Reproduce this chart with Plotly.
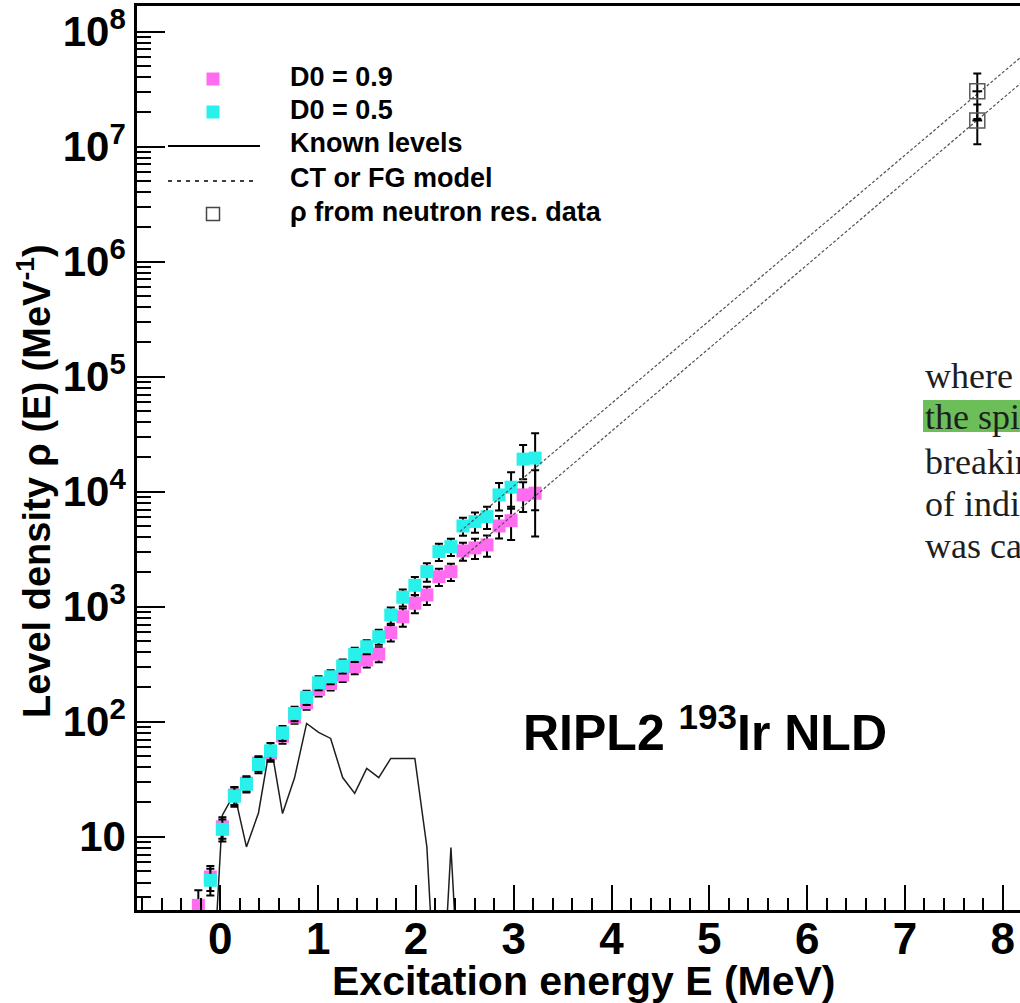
import plotly.graph_objects as go

# ---------------- data ----------------
energy = [-0.225, -0.102, 0.021, 0.144, 0.267, 0.390, 0.513, 0.636, 0.759, 0.882,
          1.005, 1.128, 1.251, 1.374, 1.497, 1.620, 1.743, 1.866, 1.989, 2.112,
          2.235, 2.358, 2.481, 2.604, 2.727, 2.850, 2.973, 3.096, 3.219]

rho_d09 = [2.53, 4.47, 12.2, 23.0, 29.2, 43.6, 53.3, 75, 110, 146,
           191, 215, 255, 301, 344, 387, 594, 818, 1071, 1265,
           1824, 2017, 3055, 3245, 3445, 5036, 5600, 9380, 9700]
err_d09 = [0.9, 1.1, 2.6, 4.1, 4.4, 6.5, 8.5, 10.5, 14, 19,
           25, 28, 33, 42, 48, 58, 95, 147, 193, 228,
           310, 343, 550, 650, 725, 1110, 1790, 2720, 5630]

energy_d05 = energy[1:]
rho_d05 = [4.18, 11.6, 22.5, 28.6, 42.5, 55.8, 80, 118, 163,
           218, 246, 305, 385, 449, 548, 847, 1208, 1535, 2017,
           3013, 3327, 5036, 5495, 6070, 9380, 10940, 19190, 19590]
err_d05 = [1.1, 2.5, 4.3, 4.3, 6.8, 9.5, 12, 17, 23,
           30, 34, 43, 54, 63, 82, 135, 205, 275, 365,
           510, 565, 905, 1100, 1335, 2530, 3830, 6330, 12700]

energy_known = [-0.102, 0.021, 0.144, 0.267, 0.390, 0.513, 0.636, 0.759, 0.882, 1.005,
                1.128, 1.251, 1.374, 1.497, 1.620, 1.743, 1.866, 1.989, 2.112, 2.235,
                2.358, 2.481]
rho_known = [0.2, 15.4, 23.8, 8.15, 16.1, 65.5, 15.9, 32.5, 96.6, 80.7,
             71.6, 32.7, 23.8, 39.3, 32.7, 48, 48, 48, 8.15, 0.1,
             8.05, 0.1]

energy_model = [2.45, 3.0, 4.0, 5.0, 6.0, 7.0, 8.0, 8.5]
rho_model_d05 = [4.5e3, 1.12e4, 5.87e4, 3.08e5, 1.61e6, 8.43e6, 4.42e7, 1.01e8]
rho_model_d09 = [2.55e3, 6.34e3, 3.35e4, 1.77e5, 9.38e5, 4.96e6, 2.62e7, 6.03e7]

energy_sn = [7.74, 7.74]
rho_sn = [3.03e7, 1.69e7]
err_sn = [1.29e7, 0.64e7]
err_sn_x = [0.05, 0.05]

x_ticks = [0, 1, 2, 3, 4, 5, 6, 7, 8]
y_ticks = [10, 1e2, 1e3, 1e4, 1e5, 1e6, 1e7, 1e8]
y_ticktext = ["10", "10<sup>2</sup>", "10<sup>3</sup>", "10<sup>4</sup>",
              "10<sup>5</sup>", "10<sup>6</sup>", "10<sup>7</sup>", "10<sup>8</sup>"]

MAGENTA = "rgb(255,108,240)"
CYAN = "rgb(40,240,235)"
FONT = "Liberation Sans"

# ---------------- geometry (body margin removed by post_script) ----------------
W, H = 1020, 1003
L, R, T, B = 137, 0, 6, 93
PW, PH = W - L - R, H - T - B
PX_PER_MEV = 97.8
X_MIN = -0.852
X_MAX = X_MIN + PW / PX_PER_MEV


def fx(px):  # page pixel -> paper x
    return (px - L) / PW


def fy(py):  # page pixel -> paper y
    return (H - B - py) / PH


fig = go.Figure()

# known levels
fig.add_trace(go.Scatter(x=energy_known, y=rho_known, mode="lines",
                         line=dict(color="rgb(30,30,30)", width=1.5),
                         showlegend=False))

# data (error bars drawn beneath the squares of the same trace)
fig.add_trace(go.Scatter(x=energy, y=rho_d09, mode="markers",
                         marker=dict(symbol="square", size=13, color=MAGENTA, line=dict(width=0)),
                         error_y=dict(type="data", array=err_d09, color="black",
                                      thickness=2, width=4),
                         showlegend=False))
fig.add_trace(go.Scatter(x=energy_d05, y=rho_d05, mode="markers",
                         marker=dict(symbol="square", size=13, color=CYAN, line=dict(width=0)),
                         error_y=dict(type="data", array=err_d05, color="black",
                                      thickness=2, width=4),
                         showlegend=False))

# model lines (drawn over the squares)
for ys in (rho_model_d05, rho_model_d09):
    fig.add_trace(go.Scatter(x=energy_model, y=ys, mode="lines",
                             line=dict(color="rgb(80,80,80)", width=1.2, dash="3px,2px"),
                             showlegend=False, hoverinfo="skip"))

# neutron resonance points
fig.add_trace(go.Scatter(x=energy_sn, y=rho_sn, mode="markers",
                         marker=dict(symbol="square-open", size=15, color="rgb(90,90,90)",
                                     line=dict(width=1.5)),
                         error_y=dict(type="data", array=err_sn, color="black", thickness=2, width=4),
                         error_x=dict(type="data", array=err_sn_x, color="black", thickness=2, width=0),
                         showlegend=False))

minor_y = [m * 10 ** k for k in range(0, 9) for m in range(2, 10)]

fig.update_layout(
    width=W, height=H,
    margin=dict(l=L, r=R, t=T, b=B),
    paper_bgcolor="white", plot_bgcolor="white",
    showlegend=False,
    xaxis=dict(range=[X_MIN, X_MAX], showgrid=False, zeroline=False,
               showline=True, linecolor="black", linewidth=2.5, mirror=True,
               tickmode="array", tickvals=x_ticks,
               ticks="inside", ticklen=25, tickwidth=2, tickcolor="black",
               ticklabelstandoff=-12, ticklabeloverflow="allow",
               tickfont=dict(family=FONT, size=44, color="black", weight="bold"),
               minor=dict(ticks="inside", ticklen=12, tickwidth=1.5, tickcolor="black",
                          tick0=0, dtick=0.2, showgrid=False)),
    yaxis=dict(type="log", range=[0.363, 8.223], showgrid=False, zeroline=False,
               showline=True, linecolor="black", linewidth=2.5, mirror=False,
               tickmode="array", tickvals=y_ticks, ticktext=y_ticktext,
               ticks="inside", ticklen=28, tickwidth=2, tickcolor="black",
               ticklabelstandoff=0, ticklabeloverflow="allow",
               tickfont=dict(family=FONT, size=42, color="black", weight="bold"),
               minor=dict(ticks="inside", ticklen=14, tickwidth=1.5, tickcolor="black",
                          tickmode="array", tickvals=minor_y, showgrid=False)),
)

ann = []
shapes = []

# axis titles
ann.append(dict(text="Excitation energy E (MeV)", x=fx(584), y=fy(981), xref="paper", yref="paper",
                xanchor="center", yanchor="middle", showarrow=False,
                font=dict(family=FONT, size=41, color="black", weight="bold")))
ann.append(dict(text="Level density ρ (E) (MeV<sup>-1</sup>)", x=fx(34), y=fy(481),
                xref="paper", yref="paper", textangle=-90,
                xanchor="center", yanchor="middle", showarrow=False,
                font=dict(family=FONT, size=38, color="black", weight="bold")))

# big label
ann.append(dict(text="RIPL2 <sup>193</sup>Ir NLD", x=fx(521), y=fy(729), xref="paper", yref="paper",
                xanchor="left", yanchor="middle", showarrow=False,
                font=dict(family=FONT, size=50, color="black", weight="bold")))

# legend
leg_texts = ["D0 = 0.9", "D0 = 0.5", "Known levels", "CT or FG model", "ρ from neutron res. data"]
leg_y = [77, 110, 143, 178, 212]
for t, yy in zip(leg_texts, leg_y):
    ann.append(dict(text=t, x=fx(288), y=fy(yy), xref="paper", yref="paper",
                    xanchor="left", yanchor="middle", showarrow=False,
                    font=dict(family=FONT, size=27, color="black", weight="bold")))
s = 6.5
shapes.append(dict(type="rect", xref="paper", yref="paper", x0=fx(213 - s), x1=fx(213 + s),
                   y0=fy(79 + s), y1=fy(79 - s), fillcolor=MAGENTA, line=dict(width=0)))
shapes.append(dict(type="rect", xref="paper", yref="paper", x0=fx(213 - s), x1=fx(213 + s),
                   y0=fy(112 + s), y1=fy(112 - s), fillcolor=CYAN, line=dict(width=0)))
shapes.append(dict(type="line", xref="paper", yref="paper", x0=fx(168), x1=fx(260),
                   y0=fy(146), y1=fy(146), line=dict(color="black", width=2)))
shapes.append(dict(type="line", xref="paper", yref="paper", x0=fx(168), x1=fx(258),
                   y0=fy(181), y1=fy(181), line=dict(color="black", width=1.5, dash="4px,5px")))
shapes.append(dict(type="rect", xref="paper", yref="paper", x0=fx(213 - s), x1=fx(213 + s),
                   y0=fy(214 + s), y1=fy(214 - s), fillcolor="rgba(0,0,0,0)",
                   line=dict(color="rgb(70,70,70)", width=1.5)))

# overlay paper text on the right
shapes.append(dict(type="rect", xref="paper", yref="paper", x0=fx(923), x1=fx(1040),
                   y0=fy(432), y1=fy(400), fillcolor="rgb(108,190,88)", line=dict(width=0),
                   layer="below"))
over_lines = ["where", "the spi", "breakin", "of indi", "was ca"]
over_y = [376, 417, 462, 504, 546]
for t, yy in zip(over_lines, over_y):
    ann.append(dict(text=t, x=fx(923), y=fy(yy), xref="paper", yref="paper",
                    xanchor="left", yanchor="middle", showarrow=False,
                    font=dict(family="Liberation Serif", size=36, color="rgb(30,30,30)")))

fig.update_layout(annotations=ann, shapes=shapes)

fig.write_html("out.html", config={"displayModeBar": False},
               post_script="document.body.style.margin='0';")
